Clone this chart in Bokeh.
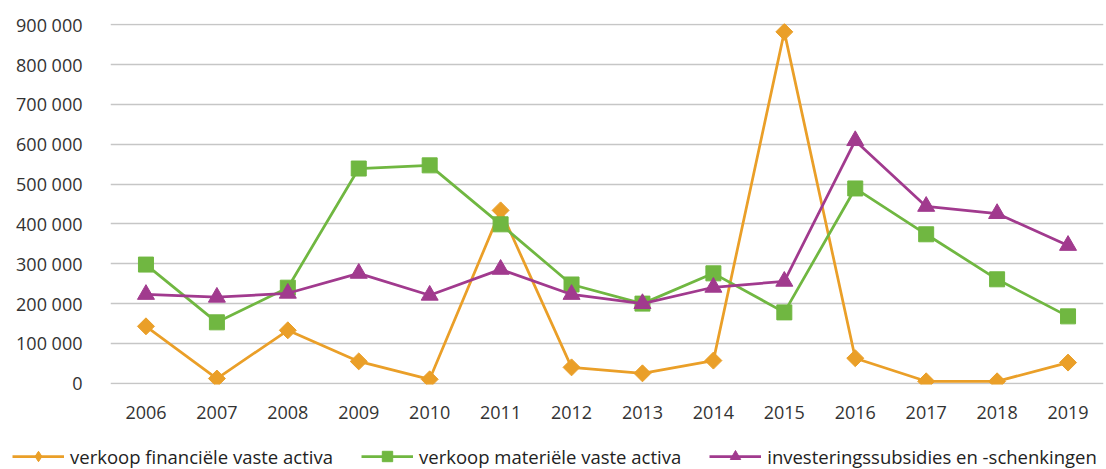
from bokeh.plotting import figure
from bokeh.layouts import column
from bokeh.models import Range1d, FactorRange, FixedTicker, Legend, LegendItem, ColumnDataSource
from bokeh.embed import file_html
from bokeh.resources import INLINE
import math

years = ["2006", "2007", "2008", "2009", "2010", "2011", "2012",
         "2013", "2014", "2015", "2016", "2017", "2018", "2019"]
financiele = [143000, 12000, 133000, 55000, 10000, 434000, 40000,
              25000, 57000, 882000, 63000, 5000, 5000, 52000]
materiele = [298000, 153000, 240000, 539000, 547000, 399000, 248000,
             200000, 276000, 178000, 489000, 374000, 261000, 168000]
subsidies = [223000, 216000, 226000, 276000, 221000, 286000, 223000,
             200000, 241000, 256000, 609000, 444000, 426000, 346000]
y_ticks = [0, 100000, 200000, 300000, 400000, 500000, 600000, 700000, 800000, 900000]
y_tick_labels = ["0", "100 000", "200 000", "300 000", "400 000", "500 000",
                 "600 000", "700 000", "800 000", "900 000"]
series_names = ["verkoop financiële vaste activa", "verkoop materiële vaste activa",
                "investeringssubsidies en -schenkingen"]

ORANGE = "#EA9F28"
GREEN = "#70B741"
PURPLE = "#A13A8E"
FONT = "Open Sans"

src = ColumnDataSource(dict(x=years, f=financiele, m=materiele, s=subsidies))


def no_frame_align(fig):
    try:
        fig.frame_align = False
    except Exception:
        pass


# ---- main chart ----
p = figure(width=1106, height=439, output_backend="svg", toolbar_location=None,
           x_range=FactorRange(factors=years, range_padding=0),
           y_range=Range1d(-3000, 903000),
           min_border_left=110, min_border_right=3, min_border_top=23, min_border_bottom=55)
p.outline_line_color = None
p.background_fill_color = "white"
p.border_fill_color = "white"

p.xgrid.grid_line_color = None
p.ygrid.grid_line_color = "#C6C6C6"
p.ygrid.grid_line_width = 1.5
p.ygrid.ticker = FixedTicker(ticks=y_ticks)

p.yaxis.ticker = FixedTicker(ticks=y_ticks)
p.yaxis.major_label_overrides = {t: l for t, l in zip(y_ticks, y_tick_labels)}
for ax in (p.xaxis[0], p.yaxis[0]):
    ax.axis_line_color = None
    ax.major_tick_line_color = None
    ax.minor_tick_line_color = None
    ax.major_tick_out = 0
    ax.major_tick_in = 0
    ax.major_label_text_font = FONT
    ax.major_label_text_font_size = "18px"
    ax.major_label_text_color = "#333333"
p.yaxis.major_label_standoff = 28
p.xaxis.major_label_standoff = 21

p.line("x", "f", source=src, line_color=ORANGE, line_width=2.75)
p.scatter("x", "f", source=src, marker="square", angle=math.pi / 4, size=12,
          fill_color=ORANGE, line_color=ORANGE)
p.line("x", "m", source=src, line_color=GREEN, line_width=2.75)
p.scatter("x", "m", source=src, marker="square", size=15,
          fill_color=GREEN, line_color=GREEN)
p.line("x", "s", source=src, line_color=PURPLE, line_width=2.75)
p.scatter("x", "s", source=src, marker="triangle", size=17,
          fill_color=PURPLE, line_color=PURPLE)
no_frame_align(p)

# ---- legend strip (series drawn outside its visible y range; only the legend shows) ----
lg = figure(width=1106, height=30, output_backend="svg", toolbar_location=None,
            x_range=FactorRange(factors=years, range_padding=0),
            y_range=Range1d(2000000, 3000000),
            x_axis_location=None, y_axis_location=None,
            min_border_left=0, min_border_right=0, min_border_top=0, min_border_bottom=0)
lg.outline_line_color = None
lg.xgrid.grid_line_color = None
lg.ygrid.grid_line_color = None
a1 = lg.line("x", "f", source=src, line_color=ORANGE, line_width=2.75)
b1 = lg.scatter("x", "f", source=src, marker="diamond", size=16,
                fill_color=ORANGE, line_color=ORANGE)
a2 = lg.line("x", "m", source=src, line_color=GREEN, line_width=2.75)
b2 = lg.scatter("x", "m", source=src, marker="square", size=13,
                fill_color=GREEN, line_color=GREEN)
a3 = lg.line("x", "s", source=src, line_color=PURPLE, line_width=2.75)
b3 = lg.scatter("x", "s", source=src, marker="triangle", size=15,
                fill_color=PURPLE, line_color=PURPLE)
no_frame_align(lg)

legend = Legend(items=[LegendItem(label=series_names[0], renderers=[a1, b1]),
                       LegendItem(label=series_names[1], renderers=[a2, b2]),
                       LegendItem(label=series_names[2], renderers=[a3, b3])],
                orientation="horizontal", location=(12, 0),
                glyph_width=52, glyph_height=26, label_height=26,
                label_standoff=6, spacing=28, padding=0, margin=0,
                border_line_color=None, background_fill_alpha=0,
                label_text_font=FONT, label_text_font_size="18.5px",
                label_text_color="#222222")
lg.add_layout(legend, "center")

layout = column(p, lg, spacing=0)
open("out.html", "w").write(file_html(layout, INLINE))
